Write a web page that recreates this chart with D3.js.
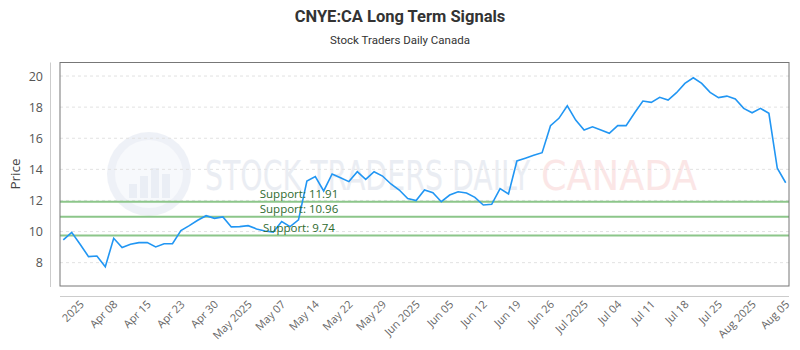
<!DOCTYPE html>
<html>
<head>
<meta charset="utf-8">
<script src="https://cdn.jsdelivr.net/npm/d3@7"></script>
<style>
  body { margin: 0; background: #fff; }
  svg { display: block; }
</style>
</head>
<body>
<script>
// price per session
const prices = [
  9.46, 9.95, 9.18, 8.39, 8.43, 7.74, 9.57, 8.97, 9.18, 9.29,
  9.29, 9.01, 9.22, 9.22, 10.06, 10.38, 10.73, 11.02, 10.85, 10.94,
  10.30, 10.32, 10.38, 10.17, 10.04, 9.97, 10.64, 10.32, 10.75, 13.25,
  13.53, 12.61, 13.70, 13.46, 13.21, 13.85, 13.36, 13.85, 13.57, 13.06,
  12.67, 12.12, 11.99, 12.67, 12.50, 11.92, 12.35, 12.56, 12.48, 12.20,
  11.71, 11.75, 12.76, 12.42, 14.54, 14.72, 14.90, 15.07, 16.81, 17.28,
  18.09, 17.17, 16.53, 16.74, 16.53, 16.32, 16.81, 16.81, 17.62, 18.39,
  18.31, 18.63, 18.46, 18.93, 19.53, 19.89, 19.53, 18.95, 18.61, 18.71,
  18.52, 17.92, 17.64, 17.92, 17.60, 14.07, 13.14
];
const dateLabels = ["2025", "Apr 08", "Apr 15", "Apr 23", "Apr 30", "May 2025", "May 07",
  "May 14", "May 22", "May 29", "Jun 2025", "Jun 05", "Jun 12", "Jun 19", "Jun 26",
  "Jul 2025", "Jul 04", "Jul 11", "Jul 18", "Jul 25", "Aug 2025", "Aug 05"];
const supports = [11.91, 10.96, 9.74];
const yTicks = [8, 10, 12, 14, 16, 18, 20];

const width = 800, height = 350;
const frame = { left: 60, right: 789, top: 62.5, bottom: 286 };

const svg = d3.select("body").append("svg")
  .attr("width", width)
  .attr("height", height)
  .style("font-family", "'Open Sans', sans-serif");

// titles
svg.append("text")
  .attr("x", 400).attr("y", 22)
  .attr("text-anchor", "middle")
  .style("font-family", "Roboto, sans-serif")
  .style("font-weight", "bold")
  .style("font-size", "16.5px")
  .attr("fill", "#333")
  .text("CNYE:CA Long Term Signals");
svg.append("text")
  .attr("x", 400).attr("y", 44)
  .attr("text-anchor", "middle")
  .style("font-family", "Roboto, sans-serif")
  .style("font-size", "11.5px")
  .attr("fill", "#333")
  .text("Stock Traders Daily Canada");

const x = d3.scaleLinear()
  .domain([0, prices.length - 1])
  .range([63.3, 785.7]);
const y = d3.scaleLinear()
  .domain([6.5, 20.87])
  .range([frame.bottom, frame.top]);

// watermark
const wm = svg.append("g").attr("opacity", 0.5);
wm.append("circle").attr("cx", 149).attr("cy", 174).attr("r", 42).attr("fill", "#dfe5f1");
wm.append("circle").attr("cx", 149).attr("cy", 174).attr("r", 34).attr("fill", "#f1f4fa");
[[-20, 14], [-9, 22], [2, 30], [13, 24]].forEach(([dx, h]) => {
  wm.append("rect").attr("x", 149 + dx).attr("y", 198 - h).attr("width", 8).attr("height", h)
    .attr("fill", "#d7deec");
});
wm.append("text")
  .attr("x", 205).attr("y", 190)
  .attr("textLength", 325).attr("lengthAdjust", "spacingAndGlyphs")
  .style("font-family", "'DejaVu Sans Condensed', sans-serif")
  .style("font-size", "40px")
  .attr("fill", "#d7dde9")
  .text("STOCK TRADERS DAILY");
wm.append("text")
  .attr("x", 541).attr("y", 190)
  .attr("textLength", 156).attr("lengthAdjust", "spacingAndGlyphs")
  .style("font-family", "'DejaVu Sans', sans-serif")
  .style("font-size", "40px")
  .attr("fill", "#f8cfcf")
  .text("CANADA");

// grid
svg.append("g")
  .selectAll("line")
  .data(yTicks)
  .join("line")
  .attr("x1", frame.left).attr("x2", frame.right)
  .attr("y1", d => y(d)).attr("y2", d => y(d))
  .attr("stroke", "#e2e2e2")
  .attr("stroke-dasharray", "3,3");

// support lines
svg.append("g")
  .selectAll("line")
  .data(supports)
  .join("line")
  .attr("x1", frame.left).attr("x2", frame.right)
  .attr("y1", d => y(d)).attr("y2", d => y(d))
  .attr("stroke", "#8cc68a")
  .attr("stroke-width", 2);

// price line
const line = d3.line()
  .x((d, i) => x(i))
  .y(d => y(d));
svg.append("path")
  .datum(prices)
  .attr("d", line)
  .attr("fill", "none")
  .attr("stroke", "#2196f3")
  .attr("stroke-width", 1.6);

svg.append("g")
  .selectAll("text")
  .data(supports)
  .join("text")
  .attr("x", 299)
  .attr("y", d => y(d) - 3.7)
  .attr("text-anchor", "middle")
  .style("font-size", "11.5px")
  .attr("fill", "#2e6b2f")
  .text(d => "Support: " + d);

// frame
svg.append("rect")
  .attr("x", frame.left).attr("y", frame.top)
  .attr("width", frame.right - frame.left)
  .attr("height", frame.bottom - frame.top)
  .attr("fill", "none")
  .attr("stroke", "#777")
  .attr("stroke-width", 1);

// y axis (offset)
const yAxis = svg.append("g")
  .attr("transform", "translate(50,0)")
  .call(d3.axisLeft(y).tickValues(yTicks).tickSize(0).tickPadding(7));
yAxis.select(".domain").attr("stroke", "#ccc").attr("d", `M0.5,${frame.top}V${frame.bottom + 1}`);
yAxis.selectAll("text")
  .style("font-family", "'Open Sans', sans-serif")
  .style("font-size", "12.5px")
  .attr("fill", "#555");

svg.append("text")
  .attr("transform", "translate(20,174) rotate(-90)")
  .attr("text-anchor", "middle")
  .style("font-size", "13.5px")
  .attr("fill", "#444")
  .text("Price");

// x axis (offset), one label every 4 sessions
const tickIdx = dateLabels.map((_, k) => 2 + 4 * k);
const xAxis = svg.append("g")
  .attr("transform", "translate(0,296)")
  .call(d3.axisBottom(x).tickValues(tickIdx).tickSize(0)
    .tickFormat((d, k) => dateLabels[k]));
xAxis.select(".domain").attr("stroke", "#ccc").attr("d", `M${frame.left},0.5H${frame.right}`);
xAxis.selectAll("text")
  .attr("text-anchor", "end")
  .attr("dy", null)
  .attr("y", null)
  .attr("transform", "translate(4,9) rotate(-45)")
  .style("font-family", "'Open Sans', sans-serif")
  .style("font-size", "11px")
  .attr("fill", "#666");
</script>
</body>
</html>
